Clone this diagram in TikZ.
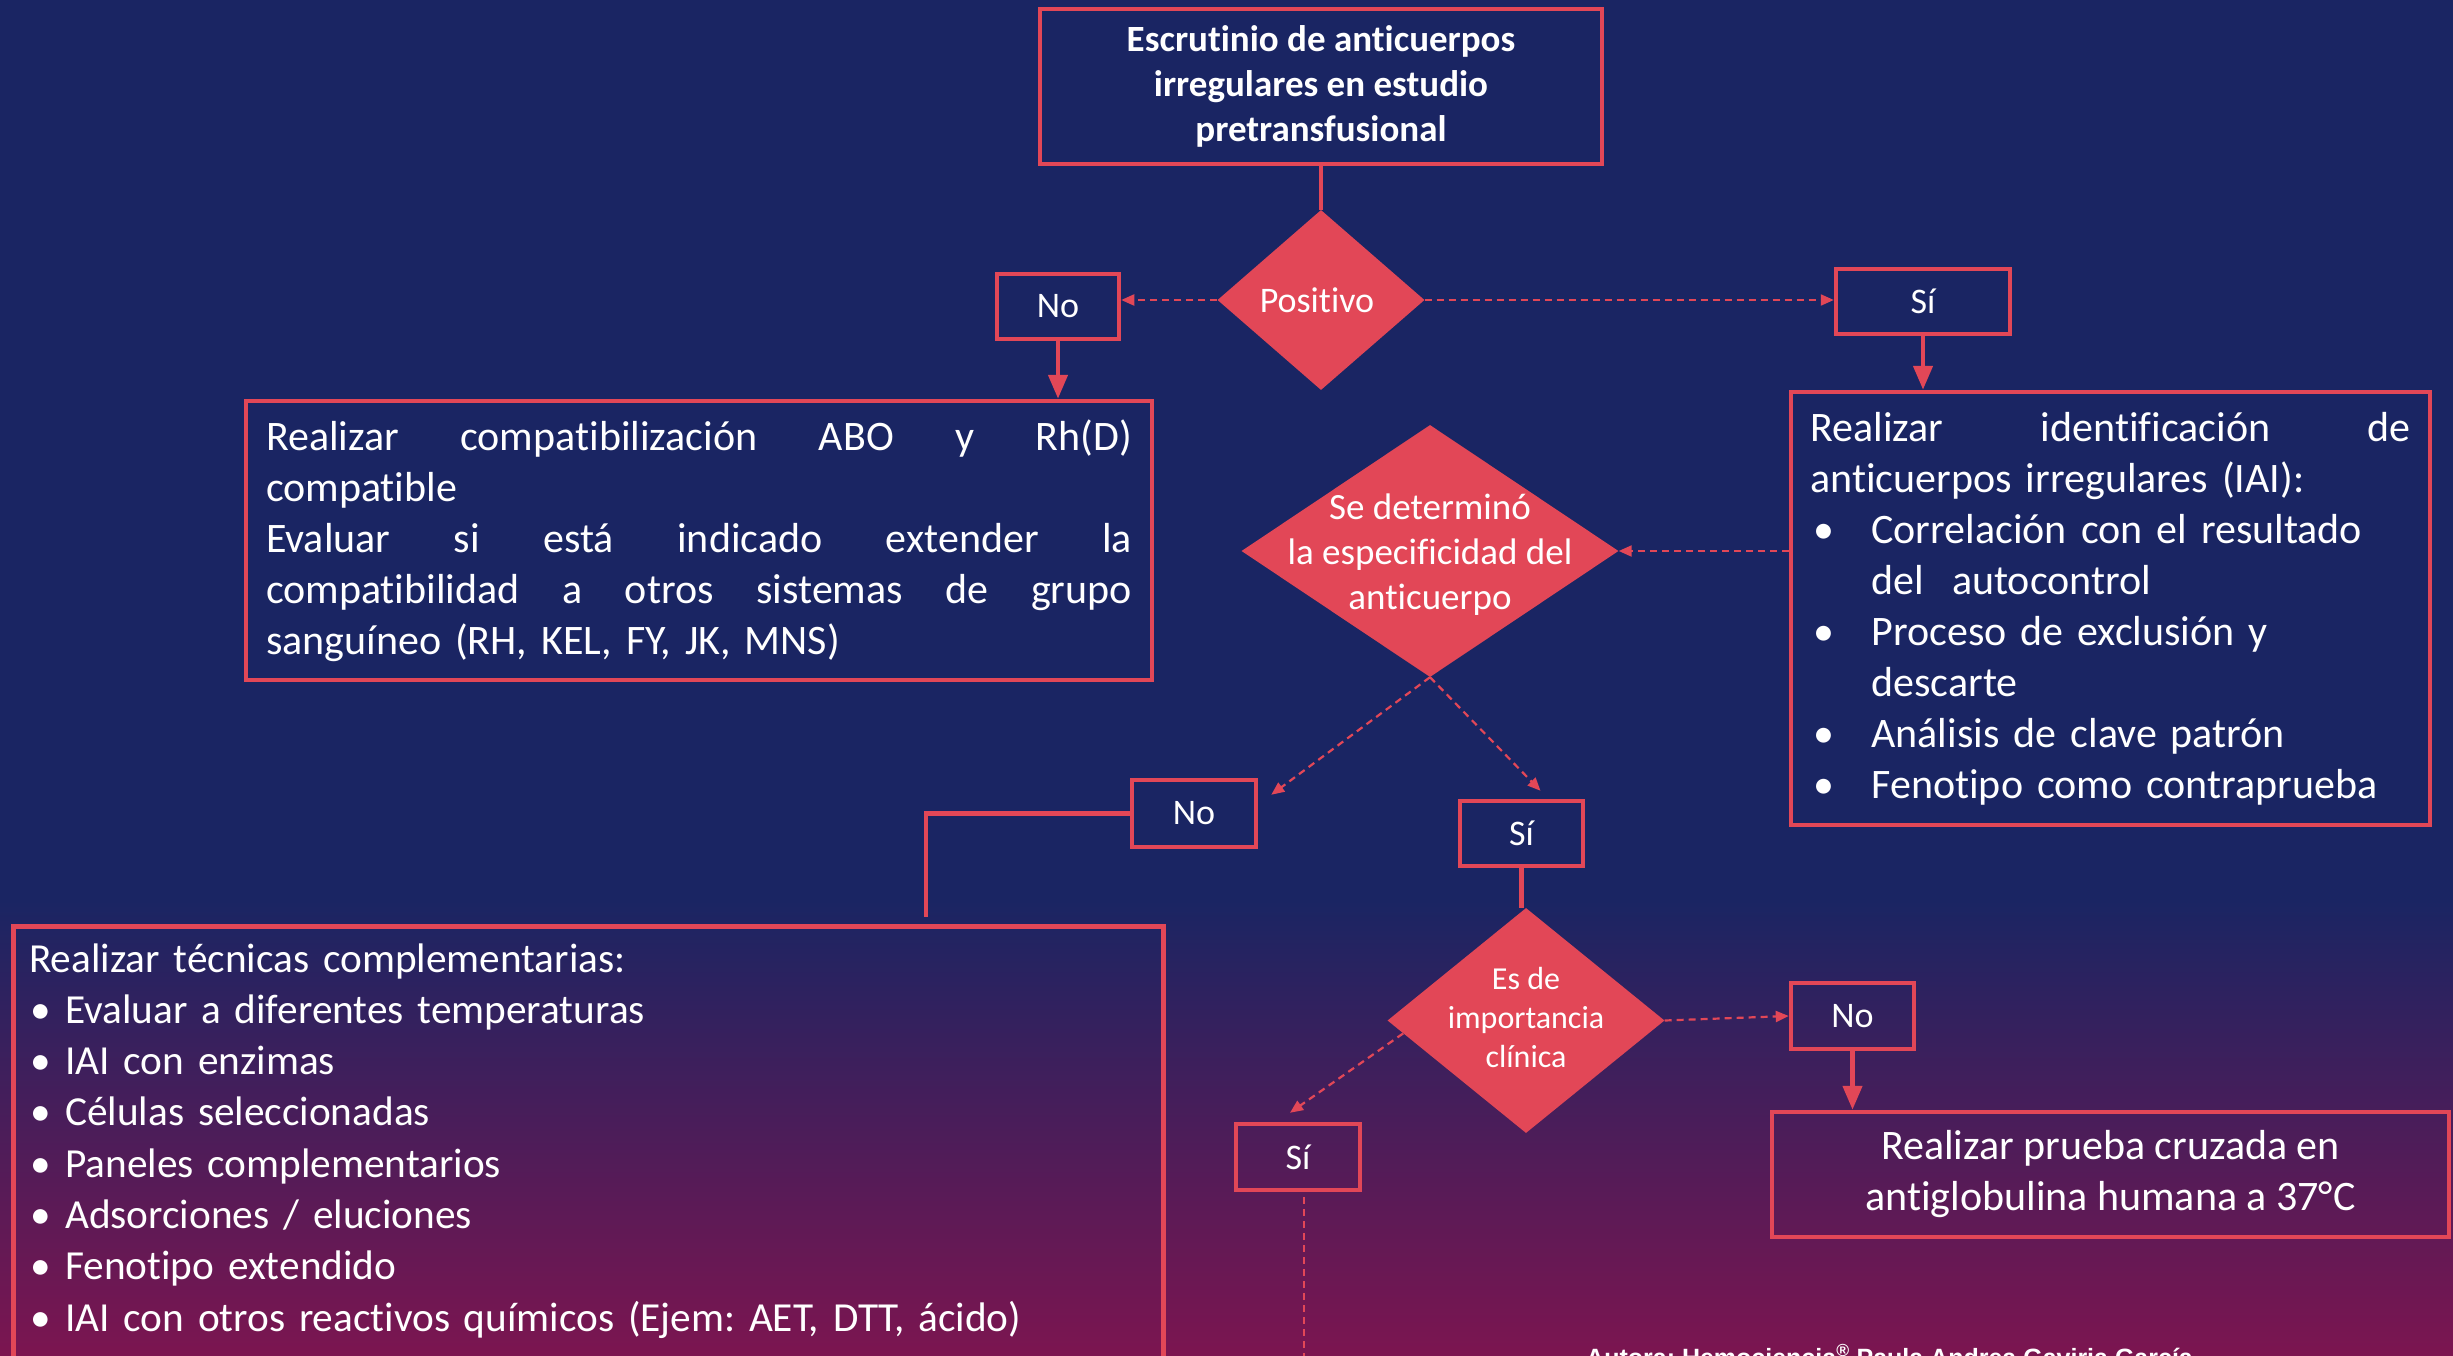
\documentclass[tikz,border=0pt]{standalone}
\usepackage{fontspec}
\setmainfont{Carlito}[Ligatures={NoCommon,NoRare}]
\newfontfamily\authorfont{Liberation Sans}
\usetikzlibrary{shapes.geometric,arrows.meta}
\frenchspacing

\definecolor{navybg}{HTML}{1A2563}
\definecolor{plumbg}{HTML}{7C1550}
\definecolor{coral}{HTML}{E24757}

% font size helper, bullet with fixed indent, full-width spread line
\newcommand{\fsz}[2]{\fontsize{#1}{#2}\selectfont}
\newcommand{\bulpt}[2]{\makebox[#1][l]{\hspace*{#2}•}}
\newcommand{\spreadline}[2]{\leavevmode\hbox to #1{#2}}

\begin{document}
\begin{tikzpicture}[x=1pt,y=-1pt,
  every node/.style={text=white},
  box/.style={draw=coral, line width=4.5pt, rectangle, inner sep=0pt},
  decision/.style={diamond, fill=coral, inner sep=0pt},
  link/.style={draw=coral, line width=4.5pt},
  solidarrow/.style={link, -{Triangle[length=24pt,width=19pt]}},
  dashlink/.style={draw=coral, line width=2.2pt, dash pattern=on 7pt off 5pt},
  dasharrow/.style={dashlink, -{Triangle[length=13pt,width=11pt]}},
  body/.style={font=\fsz{42}{51}},
  small/.style={font=\fsz{36}{44}},
]
\useasboundingbox (0,0) rectangle (2453,1356);
\clip (0,0) rectangle (2453,1356);

% background: navy fading to plum towards the bottom
\fill[navybg] (0,0) rectangle (2453,1356);
\shade[top color=navybg, bottom color=plumbg] (0,900) rectangle (2453,1357);

% ---- nodes ----
\node[box, minimum width=562, minimum height=155, align=center,
  font=\fsz{37}{45}\bfseries] (screen) at (1321,86.5)
  {Escrutinio de anticuerpos\\irregulares en estudio\\pretransfusional};

\node[decision, minimum width=207, minimum height=180,
  label={[small, xshift=-4pt]center:Positivo}] (positive) at (1321,300) {};

\node[box, small, minimum width=122, minimum height=65] (noA) at (1058,306.5) {No};
\node[box, small, minimum width=174, minimum height=65] (yesA) at (1923,301.5) {Sí};

\node[box, body, minimum width=906, minimum height=279, text width=866pt, align=left]
  (compat) at (699,540.5) {%
  \spreadline{866pt}{Realizar\hfill compatibilización\hfill ABO\hfill y\hfill Rh(D)}\\
  compatible\\
  \spreadline{866pt}{Evaluar\hfill si\hfill está\hfill indicado\hfill extender\hfill la}\\
  \spreadline{866pt}{compatibilidad\hfill a\hfill otros\hfill sistemas\hfill de\hfill grupo}\\
  sanguíneo (RH, KEL, FY, JK, MNS)};

\node[box, body, minimum width=639, minimum height=433, text width=600pt, align=left]
  (ident) at (2110.5,608.5) {%
  \spreadline{600pt}{Realizar\hfill identificación\hfill de}\\
  anticuerpos irregulares (IAI):\\
  \bulpt{61pt}{3pt}Correlación con el resultado\\
  \hspace*{61pt}del\ \ autocontrol\\
  \bulpt{61pt}{3pt}Proceso de exclusión y\\
  \hspace*{61pt}descarte\\
  \bulpt{61pt}{3pt}Análisis de clave patrón\\
  \bulpt{61pt}{3pt}Fenotipo como contraprueba};

\node[decision, minimum width=377, minimum height=252,
  label={[font=\fsz{37}{45}, align=center, yshift=-4pt]center:Se determinó\\la especificidad del\\anticuerpo}]
  (specific) at (1430,551) {};

\node[box, small, minimum width=124, minimum height=67] (noB) at (1194,813.5) {No};
\node[box, small, minimum width=123, minimum height=65] (yesB) at (1521.5,833.5) {Sí};

\node[decision, minimum width=277, minimum height=225,
  label={[font=\fsz{32}{39}, align=center, yshift=3pt]center:Es de\\importancia\\clínica}]
  (clinical) at (1526,1020.5) {};

\node[box, small, minimum width=123, minimum height=66] (noC) at (1852.5,1016) {No};
\node[box, body, minimum width=677, minimum height=125, align=center]
  (cross) at (2110.5,1174.5) {Realizar prueba cruzada en\\antiglobulina humana a 37°C};
\node[box, small, minimum width=124, minimum height=66] (yesC) at (1298,1157) {Sí};

\node[box, minimum width=1150, minimum height=500, anchor=north west] (tech) at (11,924) {};
\node[font=\fsz{41.3}{51.3}, anchor=base west, inner sep=0pt, text width=1120pt, align=left]
  (techlist) at (29,972) {%
  Realizar técnicas complementarias:\\
  \bulpt{36pt}{1pt}Evaluar a diferentes temperaturas\\
  \bulpt{36pt}{1pt}IAI con enzimas\\
  \bulpt{36pt}{1pt}Células seleccionadas\\
  \bulpt{36pt}{1pt}Paneles complementarios\\
  \bulpt{36pt}{1pt}Adsorciones / eluciones\\
  \bulpt{36pt}{1pt}Fenotipo extendido\\
  \bulpt{36pt}{1pt}IAI con otros reactivos químicos (Ejem: AET, DTT, ácido)};

\node[anchor=base west, inner sep=0pt, font=\authorfont\bfseries\fsz{25}{30}]
  (credit) at (1586,1366) {Autora: Hemociencia\textsuperscript{®} Paula Andrea Gaviria García};

% ---- connectors ----
\draw[link] (screen.south) -- (positive.north);
\draw[dasharrow] (positive.west) -- (positive.west -| noA.east);
\draw[dasharrow] (positive.east) -- (positive.east -| yesA.west);
\draw[solidarrow] (noA.south) -- (noA.south |- compat.north);
\draw[solidarrow] (yesA.south) -- (yesA.south |- ident.north);

\draw[dasharrow] (ident.west |- specific.east) -- (specific.east);
\draw[dasharrow] (specific.south) -- ([shift={(13,17)}]noB.north east);
\draw[dasharrow] (specific.south) -- ([shift={(19,-8)}]yesB.north);

\coordinate (techfeed) at (926,917);
\draw[link] (noB.west) -| (techfeed);

\draw[link] (yesB.south) -- (yesB.south |- clinical.north);
\draw[dasharrow] (clinical.east) -- (noC.west);
\draw[solidarrow] (noC.south) -- (noC.south |- cross.north);
\draw[dasharrow] (clinical.186) -- ([shift={(-8,-9)}]yesC.north);

\coordinate (yesCdown) at (1304,1380);
\draw[dashlink] ([shift={(6,5)}]yesC.south) -- ([shift={(6,0)}]yesC.south |- yesCdown);
\end{tikzpicture}
\end{document}
